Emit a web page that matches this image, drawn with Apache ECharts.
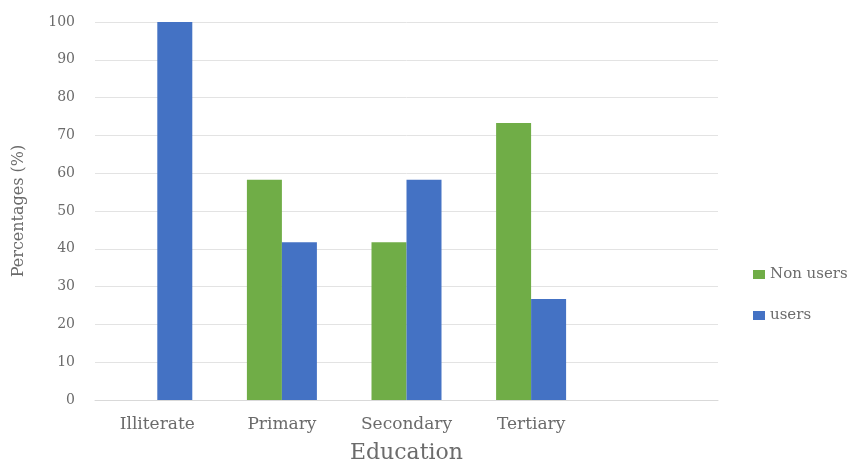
<!DOCTYPE html>
<html>
<head>
<meta charset="utf-8">
<script src="https://cdn.jsdelivr.net/npm/echarts@6/dist/echarts.min.js"></script>
<style>
  html, body { margin: 0; padding: 0; background: #fff; }
  #chart { width: 860px; height: 469px; }
</style>
</head>
<body>
<div id="chart"></div>
<script>
// Education levels (the last slot is left empty on the axis)
const categories = ['Illiterate', 'Primary', 'Secondary', 'Tertiary', ''];
const nonUsers = [0, 58.3, 41.7, 73.3, null];
const users = [100, 41.7, 58.3, 26.7, null];
const yTicks = [0, 10, 20, 30, 40, 50, 60, 70, 80, 90, 100];

const serif = '"DejaVu Serif", "Liberation Serif", serif';
const textGrey = '#6b6b6b';
const chart = echarts.init(document.getElementById('chart'));

chart.setOption({
  animation: false,
  textStyle: { fontFamily: serif },
  grid: { left: 95, right: 142, top: 22, bottom: 69 },
  legend: {
    orient: 'vertical',
    left: 748,
    top: 262,
    itemWidth: 12,
    itemHeight: 9,
    itemGap: 26,
    icon: 'rect',
    textStyle: { fontFamily: serif, fontSize: 15, color: textGrey },
    data: ['Non users', 'users']
  },
  xAxis: {
    type: 'category',
    data: categories,
    name: 'Education',
    nameLocation: 'middle',
    nameGap: 42,
    nameTextStyle: { fontFamily: serif, fontSize: 22, color: textGrey },
    axisLine: { lineStyle: { color: '#d9d9d9' } },
    axisTick: { show: false },
    axisLabel: { fontFamily: serif, fontSize: 17, color: textGrey, margin: 16 }
  },
  yAxis: {
    type: 'value',
    min: yTicks[0],
    max: yTicks[yTicks.length - 1],
    interval: 10,
    name: 'Percentages (%)',
    nameLocation: 'middle',
    nameGap: 68,
    nameTextStyle: { fontFamily: serif, fontSize: 16, color: textGrey },
    axisLine: { show: false },
    axisTick: { show: false },
    axisLabel: { fontFamily: serif, fontSize: 14, color: textGrey, margin: 20 },
    splitLine: { lineStyle: { color: '#e3e3e3', width: 1 } }
  },
  series: [
    {
      name: 'Non users',
      type: 'bar',
      data: nonUsers,
      barWidth: 35,
      barGap: '0%',
      itemStyle: { color: '#70ad47' }
    },
    {
      name: 'users',
      type: 'bar',
      data: users,
      barWidth: 35,
      barGap: '0%',
      itemStyle: { color: '#4472c4' }
    }
  ]
});
</script>
</body>
</html>
